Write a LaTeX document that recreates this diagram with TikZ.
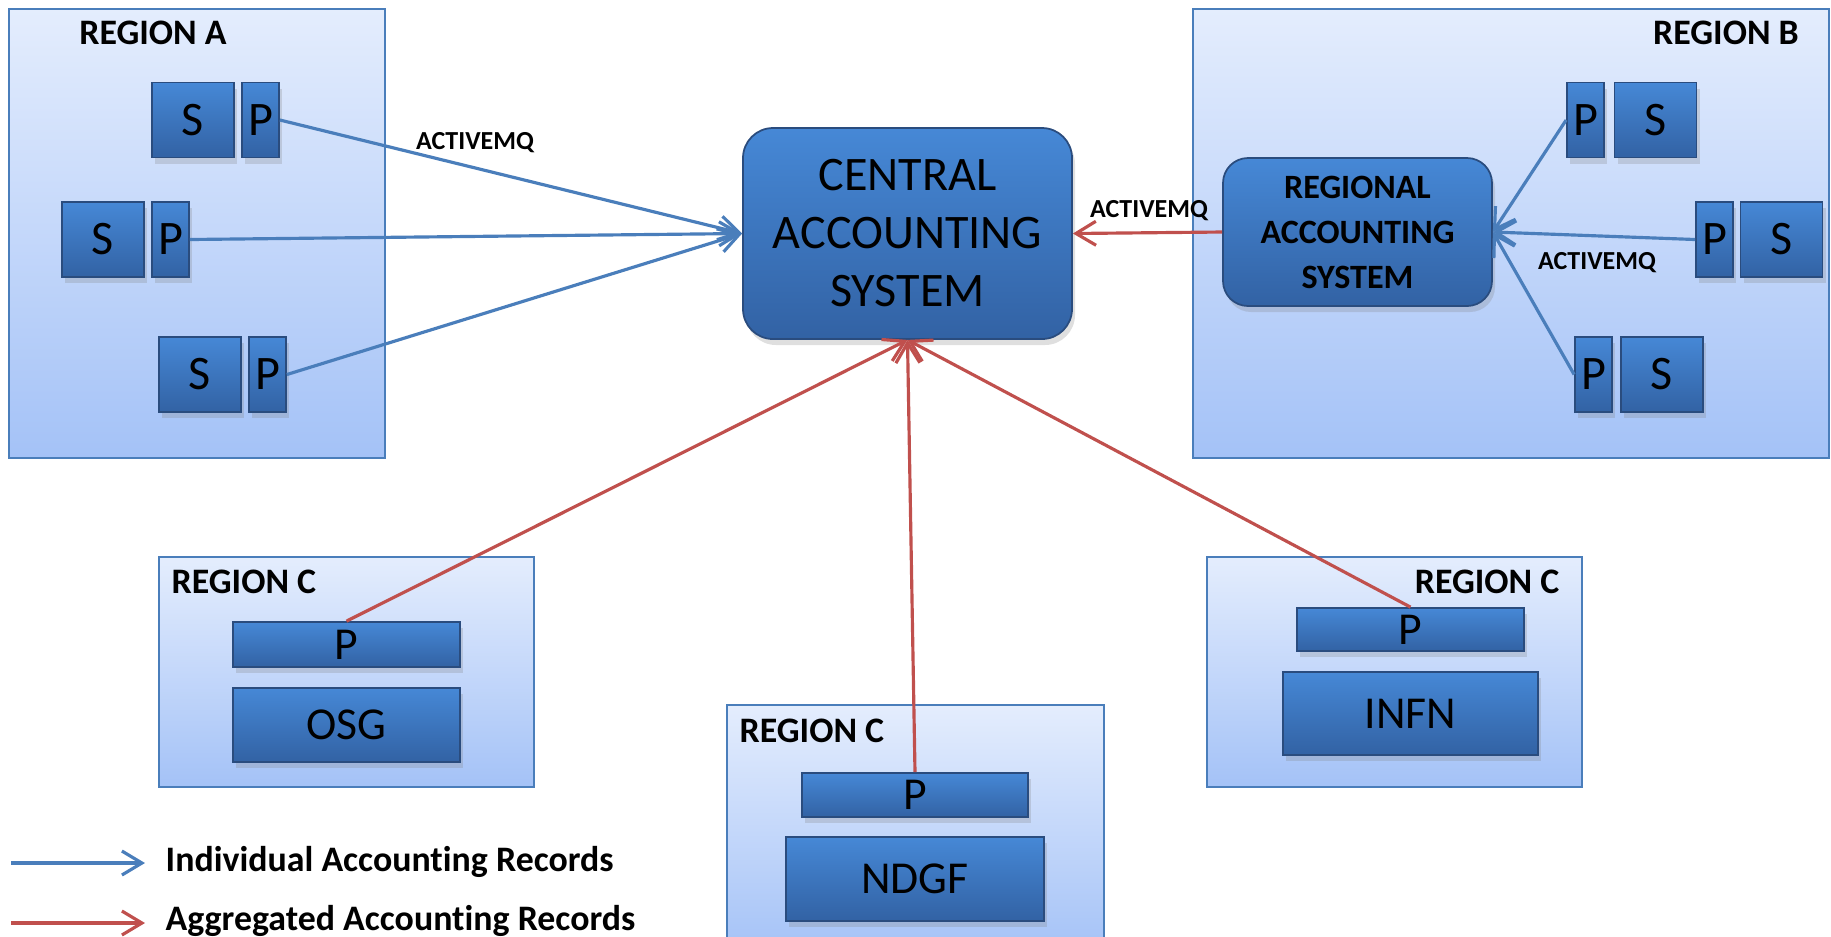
\documentclass[tikz,border=0pt]{standalone}
\usepackage{fontspec}
\setmainfont{Carlito}[Ligatures=NoCommon]
\usepackage{tikz}
\usetikzlibrary{arrows.meta, shadows}

\definecolor{boxblue}{RGB}{70,136,214}
\definecolor{boxdark}{RGB}{50,98,164}
\definecolor{boxline}{RGB}{42,76,126}
\definecolor{regtop}{RGB}{228,237,253}
\definecolor{regbot}{RGB}{164,194,247}
\definecolor{regline}{RGB}{74,126,187}
\definecolor{indblue}{RGB}{74,126,187}
\definecolor{aggred}{RGB}{192,80,77}

\begin{document}
\begin{tikzpicture}[x=0.1mm, y=-0.1mm,
    region/.style={draw=regline, line width=0.8pt, top color=regtop, bottom color=regbot, inner sep=0pt},
    unit/.style={draw=boxline, line width=0.5pt, top color=boxblue, bottom color=boxdark, inner sep=0pt,
      font=\fontsize{13.7}{16}\selectfont, drop shadow={shadow xshift=0.3mm, shadow yshift=-0.6mm, opacity=0.25}},
    sbox/.style={unit, minimum width=8.2mm, minimum height=7.5mm},
    pbox/.style={unit, minimum width=3.7mm, minimum height=7.5mm},
    regtitle/.style={font=\fontsize{10.2}{12}\selectfont\bfseries, inner sep=0pt},
    mq/.style={font=\fontsize{7.4}{9}\selectfont\bfseries, inner sep=0pt},
    legtext/.style={font=\fontsize{10.2}{12}\selectfont\bfseries, inner sep=0pt},
    ind/.style={draw=indblue, line width=0.9pt, -{Straight Barb[length=2mm, width=2.4mm]}},
    agg/.style={draw=aggred, line width=0.9pt, -{Straight Barb[length=2mm, width=2.4mm]}},
  ]
      \useasboundingbox (0,0) rectangle (1831,936);
      \clip (0,0) rectangle (1831,936);

      \node [region, minimum width=37.6mm, minimum height=44.9mm] (regA) at (197,233.5) {};
      \node [region, minimum width=63.6mm, minimum height=44.9mm] (regB) at (1511,233.5) {};
      \node [region, minimum width=37.5mm, minimum height=23mm] (regOSG) at (346.5,672) {};
      \node [region, minimum width=37.7mm, minimum height=25mm] (regNDGF) at (915.5,830) {};
      \node [region, minimum width=37.5mm, minimum height=23mm] (regINFN) at (1394.5,672) {};

      \node [regtitle] (tA) at (153,33) {REGION A};
      \node [regtitle] (tB) at (1726,33) {REGION B};
      \node [regtitle, anchor=west] (tOSG) at (171,582) {REGION C};
      \node [regtitle, anchor=west] (tNDGF) at (739,731) {REGION C};
      \node [regtitle, anchor=east] (tINFN) at (1560,582) {REGION C};

      \node [unit, rounded corners=3mm, minimum width=32.9mm, minimum height=21.1mm, align=center,
        font=\fontsize{13.7}{16.5}\selectfont] (cas) at (907.5,233.5) {CENTRAL\\ACCOUNTING\\SYSTEM};
      \node [unit, rounded corners=2.5mm, minimum width=26.9mm, minimum height=14.8mm, align=center,
        font=\fontsize{9.7}{12.8}\selectfont\bfseries] (ras) at (1357.5,232) {REGIONAL\\ACCOUNTING\\SYSTEM};

      \node [sbox] (sA1) at (193,120) {S};
      \node [pbox] (pA1) at (260.5,120) {P};
      \node [sbox] (sA2) at (103,239.5) {S};
      \node [pbox] (pA2) at (170.5,239.5) {P};
      \node [sbox] (sA3) at (200,374.5) {S};
      \node [pbox] (pA3) at (267.5,374.5) {P};

      \node [pbox] (pB1) at (1585.5,120) {P};
      \node [sbox] (sB1) at (1655.5,120) {S};
      \node [pbox] (pB2) at (1714.5,239.5) {P};
      \node [sbox] (sB2) at (1781.5,239.5) {S};
      \node [pbox] (pB3) at (1593.5,374.5) {P};
      \node [sbox] (sB3) at (1662,374.5) {S};

      \node [unit, minimum width=22.7mm, minimum height=4.5mm, font=\fontsize{13}{15}\selectfont] (pOSG) at (346.5,644.5) {P};
      \node [unit, minimum width=22.7mm, minimum height=7.4mm, font=\fontsize{13}{15}\selectfont] (osg) at (346.5,725) {OSG};
      \node [unit, minimum width=22.6mm, minimum height=4.4mm, font=\fontsize{13}{15}\selectfont] (pNDGF) at (915,795) {P};
      \node [unit, minimum width=25.8mm, minimum height=8.4mm, font=\fontsize{13}{15}\selectfont] (ndgf) at (915,879) {NDGF};
      \node [unit, minimum width=22.7mm, minimum height=4.3mm, font=\fontsize{13}{15}\selectfont] (pINFN) at (1410.5,629.5) {P};
      \node [unit, minimum width=25.5mm, minimum height=8.3mm, font=\fontsize{13}{15}\selectfont] (infn) at (1410.5,713.5) {INFN};

      \draw [ind] (pA1.east) -- (cas.west);
      \draw [ind] (pA2.east) -- (cas.west);
      \draw [ind] (pA3.east) -- (cas.west);
      \draw [ind] (pB1.west) -- (ras.east);
      \draw [ind] (pB2.west) -- (ras.east);
      \draw [ind] (pB3.west) -- (ras.east);
      \draw [agg] (ras.west) -- (cas.east);
      \draw [agg] (pOSG.north) -- (cas.south);
      \draw [agg] (pNDGF.north) -- (cas.south);
      \draw [agg] (pINFN.north) -- (cas.south);

      \node [mq] (mqA) at (475,143) {ACTIVEMQ};
      \node [mq] (mqC) at (1149,211) {ACTIVEMQ};
      \node [mq] (mqB) at (1597,263) {ACTIVEMQ};

      \coordinate (legI1) at (11,863);
      \coordinate (legI2) at (145,863);
      \coordinate (legA1) at (11,923);
      \coordinate (legA2) at (145,923);
      \draw [ind] (legI1) -- (legI2);
      \draw [agg] (legA1) -- (legA2);
      \node [legtext, anchor=base west] (legI) at (165,871) {Individual Accounting Records};
      \node [legtext, anchor=base west] (legA) at (165,930) {Aggregated Accounting Records};
    \end{tikzpicture}
\end{document}
